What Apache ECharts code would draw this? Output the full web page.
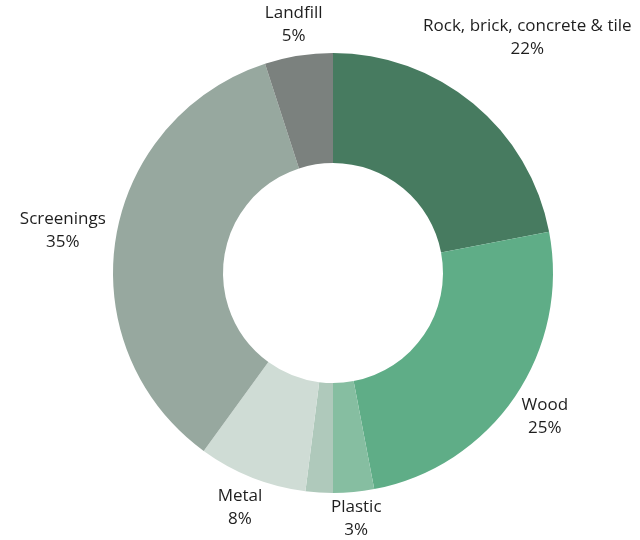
<!DOCTYPE html>
<html>
<head>
<meta charset="utf-8">
<script src="https://cdn.jsdelivr.net/npm/echarts@6/dist/echarts.min.js"></script>
<style>html,body{margin:0;padding:0;background:#fff;}#c{width:640px;height:540px;}</style>
</head>
<body>
<div id="c"></div>
<script>
var categories = ['Rock, brick, concrete & tile', 'Wood', 'Plastic', 'Other', 'Metal', 'Screenings', 'Landfill'];
var values = [22, 25, 3, 2, 8, 35, 5];
var showLabel = [true, true, true, false, true, true, true];
var colors = ['#477b60', '#5fad87', '#86bea1', '#afc9bb', '#cfdcd5', '#97a89f', '#7b817e'];
var labelGaps = [55, 8, 4, 9, 8, 10, 8];

var CX = 333, CY = 273, R0 = 110, R = 220;
var total = values.reduce(function (a, b) { return a + b; }, 0);
var cumStart = [];
var acc = 0;
values.forEach(function (v) { cumStart.push(acc); acc += v; });

var chart = echarts.init(document.getElementById('c'), null, { renderer: 'canvas' });
chart.setOption({
  animation: false,
  backgroundColor: '#ffffff',
  series: [{
    type: 'pie',
    center: [CX, CY],
    radius: [R0, R],
    startAngle: 90,
    clockwise: true,
    avoidLabelOverlap: false,
    itemStyle: { borderWidth: 0 },
    label: {
      show: true,
      position: 'outside',
      fontFamily: 'Open Sans',
      fontSize: 17,
      lineHeight: 23,
      color: '#1e1e1e',
      formatter: function (p) { return p.name + '\n' + p.value + '%'; }
    },
    labelLine: { show: false },
    labelLayout: function (p) {
      var i = p.dataIndex;
      var mid = (cumStart[i] + values[i] / 2) / total * 2 * Math.PI;
      var dx = Math.sin(mid), dy = -Math.cos(mid);
      var w = p.labelRect.width / 2, h = p.labelRect.height / 2;
      var tx = Math.abs(dx) > 1e-6 ? w / Math.abs(dx) : Infinity;
      var ty = Math.abs(dy) > 1e-6 ? h / Math.abs(dy) : Infinity;
      var d = R + labelGaps[i] + Math.min(tx, ty);
      return { x: CX + dx * d, y: CY + dy * d, align: 'center', verticalAlign: 'middle' };
    },
    data: categories.map(function (c, i) {
      return {
        name: c,
        value: values[i],
        itemStyle: { color: colors[i] },
        label: { show: showLabel[i] }
      };
    })
  }]
});
</script>
</body>
</html>
